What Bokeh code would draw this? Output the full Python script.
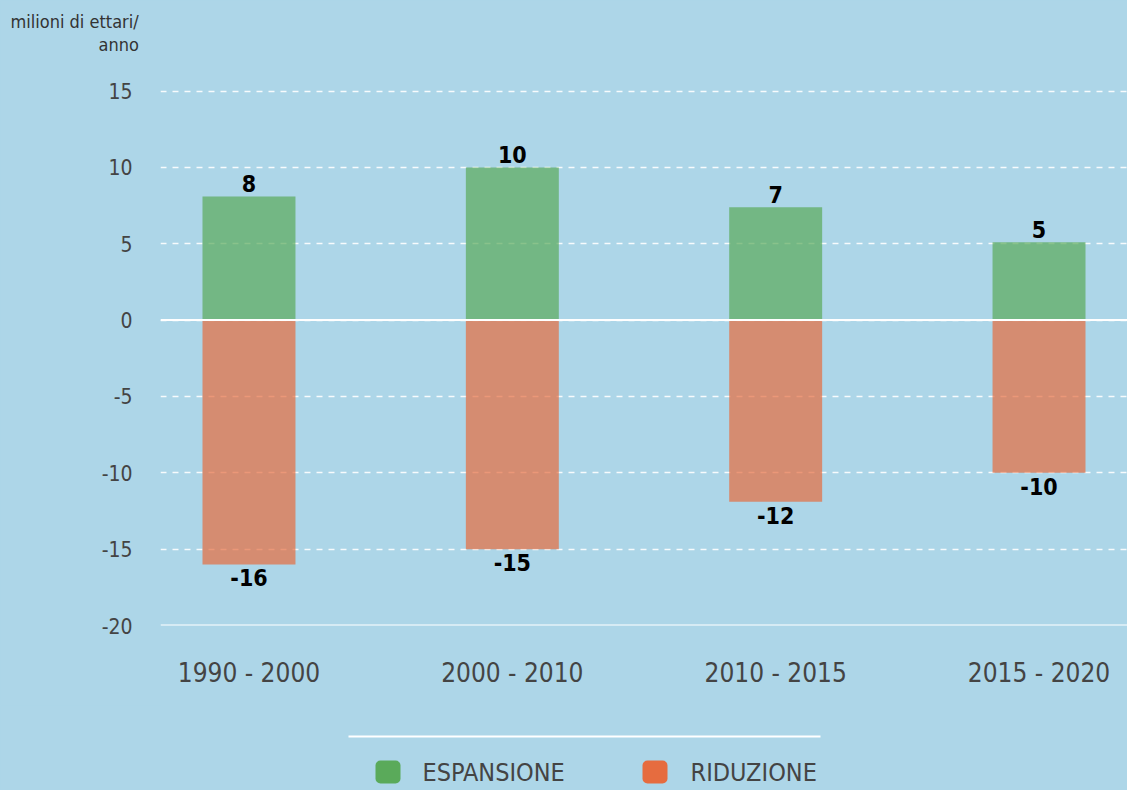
from bokeh.plotting import figure
from bokeh.models import (ColumnDataSource, FactorRange, Range1d, FixedTicker, Span, Title)
from bokeh.layouts import column
from bokeh.core.properties import value
from bokeh.embed import file_html
from bokeh.resources import INLINE

# ---- data ----
periods = ["1990 - 2000", "2000 - 2010", "2010 - 2015", "2015 - 2020"]
espansione = [8.1, 10.0, 7.4, 5.1]
riduzione = [-16.0, -15.0, -11.9, -10.0]
series_names = ["ESPANSIONE", "RIDUZIONE"]
series_colors = ["#5aaa5a", "#e66c3f"]
y_ticks = [-20, -15, -10, -5, 0, 5, 10, 15]
unit_lines = ["milioni di ettari/", "anno"]

BG = "#add6e8"
FONT = "DejaVu Sans Condensed"
TXT = "#444444"

W = 1127
p = figure(x_range=FactorRange(*periods, range_padding=-0.082),
           y_range=Range1d(-20, 15.3),
           width=W, height=705, output_backend="svg", toolbar_location=None,
           min_border_left=160, min_border_right=0, min_border_top=86, min_border_bottom=80)
p.background_fill_color = BG
p.border_fill_color = BG
p.outline_line_color = None

src = ColumnDataSource(dict(
    x=periods, up=espansione, down=riduzione,
    up_lab=[str(round(v)) for v in espansione],
    down_lab=[str(round(v)) for v in riduzione],
))

p.vbar(x="x", top="up", bottom=0, width=0.353, source=src,
       fill_color=series_colors[0], fill_alpha=0.7, line_color=None)
p.vbar(x="x", top=0, bottom="down", width=0.353, source=src,
       fill_color=series_colors[1], fill_alpha=0.7, line_color=None)

p.text(x="x", y="up", text="up_lab", source=src, text_align="center",
       text_baseline="bottom", y_offset=-4, text_font=value(FONT),
       text_font_size="23px", text_font_style="bold", text_color="black")
p.text(x="x", y="down", text="down_lab", source=src, text_align="center",
       text_baseline="top", y_offset=5, text_font=value(FONT),
       text_font_size="23px", text_font_style="bold", text_color="black")

# grid
p.xgrid.grid_line_color = None
p.ygrid.ticker = FixedTicker(ticks=y_ticks)
p.ygrid.grid_line_color = "white"
p.ygrid.grid_line_dash = "6 6"
p.ygrid.grid_line_width = 1.5
p.ygrid.grid_line_alpha = 0.9
for v in (0, -20):
    p.add_layout(Span(location=v, dimension="width", line_color="white", line_width=2))

# axes
p.yaxis.ticker = FixedTicker(ticks=y_ticks)
p.yaxis.major_label_overrides = {t: str(t) for t in y_ticks}
p.yaxis.axis_line_color = None
p.yaxis.major_tick_line_color = None
p.yaxis.minor_tick_line_color = None
p.yaxis.major_label_text_font = FONT
p.yaxis.major_label_text_font_size = "21px"
p.yaxis.major_label_text_color = TXT
p.yaxis.major_label_standoff = 22

p.xaxis.axis_line_color = None
p.xaxis.major_tick_line_color = None
p.xaxis.major_label_text_font = FONT
p.xaxis.major_label_text_font_size = "26px"
p.xaxis.major_label_text_color = TXT
p.xaxis.major_label_standoff = 26

# unit title (two lines, left of the frame)
p.add_layout(Title(text=" ", text_font_size="26px", standoff=0), "above")
p.add_layout(Title(text=unit_lines[1], align="left", offset=-62, standoff=0,
                   text_font=FONT, text_font_size="18px", text_font_style="normal",
                   text_color="#333333"), "above")
p.add_layout(Title(text=unit_lines[0], align="left", offset=-150, standoff=0,
                   text_font=FONT, text_font_size="18px", text_font_style="normal",
                   text_color="#333333"), "above")

# ---- legend strip ----
lg = figure(x_range=Range1d(160, W), y_range=Range1d(790, 705), width=W, height=85,
            output_backend="svg", toolbar_location=None,
            min_border_left=160, min_border_right=0, min_border_top=0, min_border_bottom=0)
lg.background_fill_color = BG
lg.border_fill_color = BG
lg.outline_line_color = None
lg.axis.visible = False
lg.grid.visible = False
lg.segment(x0=[348], y0=[736], x1=[820], y1=[736], line_color="white", line_width=2)
box_left = [375, 642]
text_left = [422, 690]
lg.quad(left=box_left, right=[b + 25 for b in box_left], top=[760] * 2, bottom=[783] * 2,
        fill_color=series_colors, line_color=None, border_radius=5)
lg.text(x=text_left, y=[772] * 2, text=series_names, text_baseline="middle",
        text_font=value(FONT), text_font_size="25px", text_color=TXT)

layout = column(p, lg, spacing=0)
html = file_html(layout, INLINE)
html = html.replace("</head>", "<style>html, body { background: %s; }</style></head>" % BG, 1)
open("out.html", "w").write(html)
